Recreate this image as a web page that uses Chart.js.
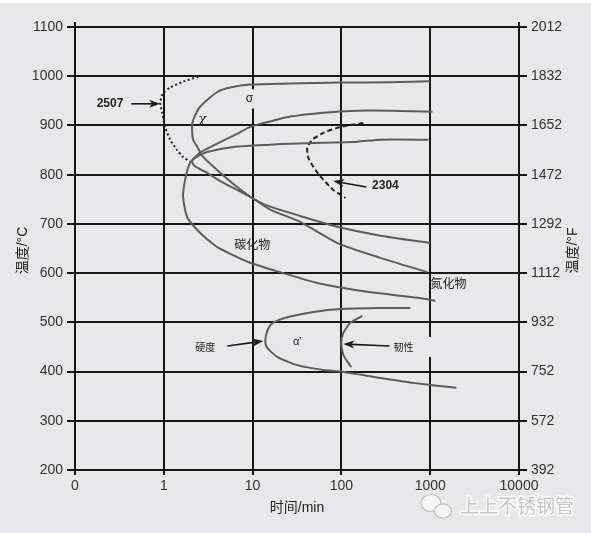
<!DOCTYPE html>
<html>
<head>
<meta charset="utf-8">
<script src="https://cdn.jsdelivr.net/npm/chart.js@4.4.0/dist/chart.umd.min.js"></script>
<style>
  html, body { margin: 0; padding: 0; background: #fff; }
  #wrap { width: 591px; height: 533px; }
</style>
</head>
<body>
<div id="wrap"><canvas id="ttt" width="591" height="533"></canvas></div>
<script>
// axes
const timeTicks = [0.1, 1, 10, 100, 1000, 10000];
const timeTickLabels = ['0', '1', '10', '100', '1000', '10000'];
const tempCTicks = [200, 300, 400, 500, 600, 700, 800, 900, 1000, 1100];
const tempFTicks = [392, 572, 752, 932, 1112, 1292, 1472, 1652, 1832, 2012];

// curves: [time in min, temperature in °C]
const sigmaCurve = [
  [1000, 990], [355, 988], [97, 987], [26.5, 985], [9.4, 983], [5.6, 977], [4.0, 968],
  [2.56, 938], [2.14, 911], [2.08, 897], [2.14, 871], [2.37, 857], [2.77, 836],
  [4.32, 804], [6.7, 775], [10.7, 749], [15.8, 735], [34.4, 716], [90, 694], [275, 676], [1000, 661]
];
const nitrideCurve = [
  [955, 871], [275, 871], [151, 867], [62.5, 865], [26.5, 863], [15.8, 861], [6.7, 857],
  [3.08, 846], [2.44, 838], [2.08, 828], [2.2, 818], [2.92, 806], [4.32, 787], [6.7, 769],
  [10.7, 749], [15.8, 729], [34.4, 704], [90, 661], [275, 631], [929, 602]
];
const carbideCurve = [
  [1059, 928], [355, 930], [151, 930], [62.5, 926], [26.5, 918], [15.8, 908], [9.4, 897],
  [6.7, 883], [3.6, 859], [2.56, 845], [1.98, 824], [1.74, 790], [1.65, 755], [1.83, 714],
  [2.56, 682], [4.0, 653], [9.4, 621], [22.1, 600], [53.5, 580], [196, 562], [718, 550], [1145, 544]
];
const curve2507 = [
  [2.44, 999], [1.65, 989], [1.18, 977], [0.98, 966], [0.91, 946], [0.96, 926],
  [1.03, 897], [1.18, 871], [1.41, 850], [1.65, 836], [1.98, 826]
];
const curve2304 = [
  [177, 905], [126, 901], [90, 895], [62.5, 885], [47, 871], [41.3, 855],
  [42.4, 834], [50.8, 810], [62.5, 790], [81, 769], [111, 753]
];
const hardnessCurve = [
  [598, 529], [275, 529], [97, 527], [48.2, 521], [26.5, 512], [19.9, 505], [16.4, 497],
  [15.0, 487], [14.2, 474], [13.9, 460], [14.6, 448], [18.9, 430], [31.8, 413], [62.5, 403],
  [97, 400], [275, 387], [647, 377], [1972, 367]
];
const toughnessCurve = [
  [172, 513], [126, 499], [105, 478], [99.7, 458], [105, 434], [129, 409]
];

const curveColor = '#5d5d5d';
const gridColor = '#171717';
const cjk = '"Noto Sans CJK SC", sans-serif';
const latin = '"Liberation Sans", "Noto Sans CJK SC", sans-serif';

function toPoints(arr) {
  return arr.map(p => ({ x: p[0], y: p[1] }));
}

function curve(arr, dash) {
  return {
    data: toPoints(arr),
    showLine: true,
    pointRadius: 0,
    borderColor: dash ? '#222' : curveColor,
    borderWidth: 2,
    borderDash: dash || [],
    tension: 0.2,
    fill: false,
    yAxisID: 'y'
  };
}

// labels and arrows, positioned in data units
const labels = [
  { text: 'σ', t: 9.2, T: 954, font: '12px ' + latin, mask: [12, 19, 0] },
  { text: 'χ', t: 2.7, T: 911, font: 'italic 13px "DejaVu Serif", serif' },
  { text: '碳化物', t: 9.9, T: 659, font: '12px ' + cjk },
  { text: '氮化物', t: 1603, T: 580, font: '12px ' + cjk },
  { text: "α'", t: 31.8, T: 461, font: '11px ' + latin },
  { text: '2507', t: 0.248, T: 944, font: 'bold 12px ' + latin },
  { text: '2304', t: 313, T: 777, font: 'bold 12px ' + latin },
  { text: '硬度', t: 2.92, T: 450, font: '10px ' + cjk },
  { text: '韧性', t: 499, T: 450, font: '10px ' + cjk, mask: [40, 20, 9] }
];
const arrows = [
  { from: [0.43, 944], to: [0.91, 944] },
  { from: [191, 775], to: [81, 787] },
  { from: [5.2, 452], to: [13.2, 462] },
  { from: [347, 452], to: [105, 456] }
];

const bgColor = '#e8e8eb';

const decorPlugin = {
  id: 'decor',
  beforeDraw(chart) {
    const ctx = chart.ctx;
    ctx.save();
    ctx.fillStyle = bgColor;
    ctx.fillRect(0, 3, chart.width, chart.height - 3);
    ctx.restore();
  },
  afterDatasetsDraw(chart) {
    const ctx = chart.ctx;
    const xs = chart.scales.x, ys = chart.scales.y;
    ctx.save();
    // arrows
    arrows.forEach(a => {
      const x1 = xs.getPixelForValue(a.from[0]), y1 = ys.getPixelForValue(a.from[1]);
      const x2 = xs.getPixelForValue(a.to[0]), y2 = ys.getPixelForValue(a.to[1]);
      const ang = Math.atan2(y2 - y1, x2 - x1);
      const c = Math.cos(ang), s = Math.sin(ang);
      ctx.strokeStyle = '#1a1a1a';
      ctx.fillStyle = '#1a1a1a';
      ctx.lineWidth = 1.6;
      ctx.beginPath();
      ctx.moveTo(x1, y1);
      ctx.lineTo(x2 - 8 * c, y2 - 8 * s);
      ctx.stroke();
      ctx.beginPath();
      ctx.moveTo(x2, y2);
      ctx.lineTo(x2 - 11 * c + 4 * s, y2 - 11 * s - 4 * c);
      ctx.lineTo(x2 - 8 * c, y2 - 8 * s);
      ctx.lineTo(x2 - 11 * c - 4 * s, y2 - 11 * s + 4 * c);
      ctx.closePath();
      ctx.fill();
    });
    // labels
    labels.forEach(l => {
      const x = xs.getPixelForValue(l.t), y = ys.getPixelForValue(l.T);
      if (l.mask) {
        ctx.fillStyle = bgColor;
        ctx.fillRect(x + l.mask[2] - l.mask[0] / 2, y - l.mask[1] / 2, l.mask[0], l.mask[1]);
      }
      ctx.font = l.font;
      ctx.fillStyle = '#222';
      ctx.textAlign = 'center';
      ctx.textBaseline = 'middle';
      ctx.fillText(l.text, x, y);
    });
    ctx.restore();
  },
  afterDraw(chart) {
    const ctx = chart.ctx;
    const area = chart.chartArea;
    ctx.save();
    // axis lines poke above the top gridline
    ctx.strokeStyle = gridColor;
    ctx.lineWidth = 2;
    ctx.beginPath();
    ctx.moveTo(area.left, area.top - 5); ctx.lineTo(area.left, area.top);
    ctx.moveTo(area.right, area.top - 5); ctx.lineTo(area.right, area.top);
    ctx.stroke();

    // axis titles
    ctx.fillStyle = '#222';
    ctx.font = '14px ' + latin;
    ctx.textAlign = 'center';
    ctx.textBaseline = 'middle';
    ctx.fillText('时间/min', (area.left + area.right) / 2, 508);
    [[23, '温度/°C'], [573, '温度/°F']].forEach(([x, txt]) => {
      ctx.save();
      ctx.translate(x, (area.top + area.bottom) / 2 + 2);
      ctx.rotate(-Math.PI / 2);
      ctx.fillText(txt, 0, 0);
      ctx.restore();
    });

    // watermark
    ctx.fillStyle = '#f6f6f6';
    ctx.strokeStyle = '#bdbdbd';
    ctx.lineWidth = 1.2;
    ctx.beginPath();
    ctx.ellipse(431, 503, 10, 8.5, 0, 0, Math.PI * 2);
    ctx.fill(); ctx.stroke();
    ctx.beginPath();
    ctx.ellipse(443, 511, 8.5, 7, 0, 0, Math.PI * 2);
    ctx.fill(); ctx.stroke();
    ctx.font = '19px ' + cjk;
    ctx.textAlign = 'left';
    ctx.lineWidth = 3;
    ctx.strokeStyle = '#fbfbfb';
    ctx.strokeText('上上不锈钢管', 460, 506);
    ctx.fillStyle = '#c6c6c6';
    ctx.fillText('上上不锈钢管', 460, 506);
    ctx.restore();
  }
};

const tickFont = { family: 'Liberation Sans', size: 14 };

new Chart(document.getElementById('ttt'), {
  type: 'scatter',
  data: {
    datasets: [
      curve(sigmaCurve),
      curve(nitrideCurve),
      curve(carbideCurve),
      curve(hardnessCurve),
      curve(toughnessCurve),
      curve(curve2507, [2, 2.5]),
      curve(curve2304, [5, 3])
    ]
  },
  options: {
    responsive: false,
    animation: false,
    devicePixelRatio: 1,
    layout: { padding: { top: 27, left: 0, right: 0, bottom: 0 } },
    plugins: { legend: { display: false }, tooltip: { enabled: false } },
    scales: {
      x: {
        type: 'logarithmic',
        position: 'bottom',
        min: 0.1,
        max: 10000,
        afterBuildTicks: s => { s.ticks = timeTicks.map(v => ({ value: v, major: true })); },
        afterFit: s => { s.height = 63; },
        ticks: {
          autoSkip: false, maxRotation: 0, padding: 3,
          color: '#333', font: tickFont,
          callback: (v, i) => timeTickLabels[i]
        },
        grid: { color: gridColor, lineWidth: 2, tickLength: 5 },
        border: { color: gridColor, width: 2 }
      },
      y: {
        position: 'left',
        min: 200,
        max: 1100,
        afterBuildTicks: s => { s.ticks = tempCTicks.map(v => ({ value: v })); },
        afterFit: s => { s.width = 75; },
        ticks: { padding: 4, color: '#333', font: tickFont, callback: v => String(v) },
        grid: { color: gridColor, lineWidth: 2, tickLength: 8 },
        border: { color: gridColor, width: 2 }
      },
      y2: {
        position: 'right',
        min: 392,
        max: 2012,
        afterBuildTicks: s => { s.ticks = tempFTicks.map(v => ({ value: v })); },
        afterFit: s => { s.width = 72; },
        ticks: { padding: 4, color: '#333', font: tickFont, callback: v => String(v) },
        grid: { drawOnChartArea: false, color: gridColor, lineWidth: 2, tickLength: 8 },
        border: { color: gridColor, width: 2 }
      }
    }
  },
  plugins: [decorPlugin]
});
</script>
</body>
</html>
